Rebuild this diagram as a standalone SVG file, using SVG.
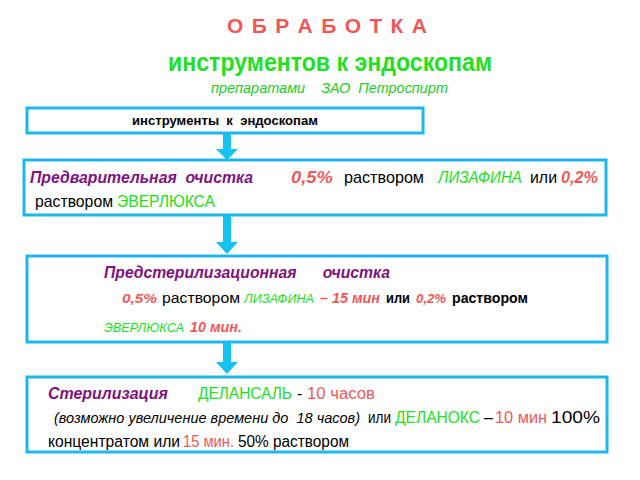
<svg xmlns="http://www.w3.org/2000/svg" width="640" height="480" viewBox="0 0 640 480" xml:space="preserve">
<style>
text{font-family:"Liberation Sans","Arial",sans-serif;white-space:pre;}
.box{fill:#fff;stroke:#1cb8ec;stroke-width:3;}
.arr{fill:#14c3f2;}
.r{fill:#f05858;}
.g{fill:#22e022;}
.p{fill:#80127f;}
.k{fill:#000;}
.b{font-weight:bold;}
.i{font-style:italic;}
</style>
<rect width="640" height="480" fill="#fff"/>
<g id="title">
<text x="227" y="33" font-size="21" class="r b" textLength="200" lengthAdjust="spacing">О Б Р А Б О Т К А</text>
<text x="168" y="71" font-size="25" class="g b" textLength="324" lengthAdjust="spacingAndGlyphs">инструментов к эндоскопам</text>
<text x="211" y="93" font-size="15" class="i" fill="#22cc22" textLength="237" lengthAdjust="spacingAndGlyphs">препаратами    ЗАО  Петроспирт</text>
</g>
<g id="connectors">
<path class="arr" d="M223,134 H231 V149 H238 L227,160 L216,149 H223 Z"/>
<path class="arr" d="M223,216 H231 V242 H238 L227,254 L216,242 H223 Z"/>
<path class="arr" d="M223,343 H231 V362 H238 L227,374 L216,362 H223 Z"/>
</g>
<g id="node1">
<rect class="box" x="27" y="108" width="396" height="25"/>
<text x="132" y="125" font-size="13" class="k b" textLength="186" lengthAdjust="spacingAndGlyphs">инструменты  к  эндоскопам</text>
</g>
<g id="node2">
<rect class="box" x="24" y="160" width="582" height="55"/>
<g font-size="17">
<text x="30" y="183" class="p b i" textLength="223" lengthAdjust="spacingAndGlyphs">Предварительная  очистка</text>
<text x="291" y="183" class="r b i" textLength="42" lengthAdjust="spacingAndGlyphs">0,5%</text>
<text x="344" y="183" class="k" textLength="80" lengthAdjust="spacingAndGlyphs">раствором</text>
<text x="438" y="183" class="g i" textLength="84" lengthAdjust="spacingAndGlyphs">ЛИЗАФИНА</text>
<text x="530" y="183" class="k" textLength="27" lengthAdjust="spacingAndGlyphs">или</text>
<text x="561" y="183" class="r b i" textLength="37" lengthAdjust="spacingAndGlyphs">0,2%</text>
<text x="35" y="207" class="k" textLength="78" lengthAdjust="spacingAndGlyphs">раствором</text>
<text x="117" y="207" class="g" textLength="98" lengthAdjust="spacingAndGlyphs">ЭВЕРЛЮКСА</text>
</g>
</g>
<g id="node3">
<rect class="box" x="27" y="256" width="580" height="86"/>
<text x="104" y="278" font-size="17" class="p b i" textLength="286" lengthAdjust="spacingAndGlyphs">Предстерилизационная      очистка</text>
<g font-size="15">
<text x="122" y="303" font-size="13" class="r b i" textLength="35" lengthAdjust="spacingAndGlyphs">0,5%</text>
<text x="162" y="303" class="k" textLength="78" lengthAdjust="spacingAndGlyphs">раствором</text>
<text x="244" y="303" font-size="13.5" class="g i" textLength="70" lengthAdjust="spacingAndGlyphs">ЛИЗАФИНА</text>
<text x="320" y="303" class="r b i" textLength="60" lengthAdjust="spacingAndGlyphs">– 15 мин</text>
<text x="386" y="303" class="k b" textLength="24" lengthAdjust="spacingAndGlyphs">или</text>
<text x="416" y="303" font-size="13" class="r b i" textLength="30" lengthAdjust="spacingAndGlyphs">0,2%</text>
<text x="452" y="303" class="k b" textLength="76" lengthAdjust="spacingAndGlyphs">раствором</text>
<text x="104" y="332" font-size="13.5" class="g i" textLength="80" lengthAdjust="spacingAndGlyphs">ЭВЕРЛЮКСА</text>
<text x="190" y="332" class="r b i" textLength="52" lengthAdjust="spacingAndGlyphs">10 мин.</text>
</g>
</g>
<g id="node4">
<rect class="box" x="27" y="377" width="580" height="75"/>
<g font-size="16">
<text x="48" y="399" class="p b i" textLength="120" lengthAdjust="spacingAndGlyphs">Стерилизация</text>
<text x="198" y="399" class="g" textLength="94" lengthAdjust="spacingAndGlyphs">ДЕЛАНСАЛЬ</text>
<text x="297" y="399" class="k">-</text>
<text x="307" y="399" class="r" textLength="68" lengthAdjust="spacingAndGlyphs">10 часов</text>
<text x="54" y="423" font-size="15" class="k i" textLength="306" lengthAdjust="spacingAndGlyphs">(возможно увеличение времени до  18 часов)</text>
<text x="368" y="423" class="k" textLength="23" lengthAdjust="spacingAndGlyphs">или</text>
<text x="395" y="423" class="g" textLength="85" lengthAdjust="spacingAndGlyphs">ДЕЛАНОКС</text>
<text x="484" y="423" class="k">–</text>
<text x="495" y="423" class="r" textLength="52" lengthAdjust="spacingAndGlyphs">10 мин</text>
<text x="551" y="423" class="k" textLength="49" lengthAdjust="spacingAndGlyphs">100%</text>
<text x="48" y="447" class="k" textLength="132" lengthAdjust="spacingAndGlyphs">концентратом или</text>
<text x="183" y="447" class="r" textLength="51" lengthAdjust="spacingAndGlyphs">15 мин.</text>
<text x="238" y="447" class="k" textLength="111" lengthAdjust="spacingAndGlyphs">50% раствором</text>
</g>
</g>
</svg>
